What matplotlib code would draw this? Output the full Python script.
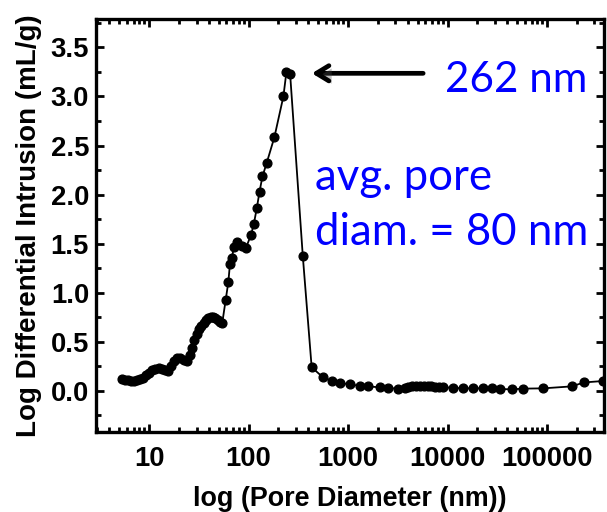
import matplotlib
matplotlib.use("Agg")
import matplotlib.pyplot as plt
import matplotlib.ticker as mticker
import matplotlib.patheffects as pe

# Mercury intrusion porosimetry: log differential intrusion vs pore diameter
pore_diameter_nm = [
    5.35, 5.68, 6.11, 6.56, 7.05, 7.58, 8.14, 8.74, 9.39, 10.1,
    10.8, 11.6, 12.5, 13.4, 14.4, 15.5, 16.7, 17.9, 19.2, 20.6,
    22.2, 23.8, 25.6, 27.0, 28.5, 30.1, 31.8, 33.5, 35.4, 37.4,
    39.4, 41.6, 43.9, 46.3, 48.9, 51.6, 54.5,
    59.0, 62.7, 65.0, 67.8, 71.5, 77.0, 85.0, 94.0, 106, 113,
    121, 129, 138, 152, 182, 224, 240, 262,
    351, 431, 556, 685, 828, 1047, 1320, 1600, 2090, 2540,
    3200, 3740, 4050, 4400, 4800, 5250, 5750, 6300, 6900, 7550,
    8300, 9080, 11400, 14400, 18200, 22900, 27800, 33700, 44200, 57800,
    91800, 177000, 235000, 368000,
]
log_diff_intrusion = [
    0.118, 0.112, 0.105, 0.101, 0.101, 0.108, 0.118, 0.135, 0.159, 0.186,
    0.210, 0.227, 0.230, 0.227, 0.215, 0.205, 0.250, 0.300, 0.330, 0.335,
    0.315, 0.305, 0.360, 0.440, 0.520, 0.580, 0.625, 0.660, 0.695, 0.725,
    0.745, 0.755, 0.755, 0.745, 0.720, 0.700, 0.695,
    0.93, 1.11, 1.29, 1.35, 1.47, 1.52, 1.48, 1.455, 1.59, 1.70,
    1.86, 2.03, 2.185, 2.32, 2.586, 3.00, 3.245, 3.225,
    1.375, 0.240, 0.140, 0.100, 0.080, 0.065, 0.050, 0.045, 0.035, 0.030,
    0.020, 0.030, 0.040, 0.045, 0.050, 0.050, 0.048, 0.046, 0.045, 0.043,
    0.040, 0.035, 0.030, 0.025, 0.025, 0.025, 0.025, 0.018, 0.015, 0.022,
    0.025, 0.045, 0.085, 0.100,
]

x_tick_values = [10, 100, 1000, 10000, 100000]
x_tick_labels = ["10", "100", "1000", "10000", "100000"]
y_tick_values = [0.0, 0.5, 1.0, 1.5, 2.0, 2.5, 3.0, 3.5]

peak_label = "262 nm"
avg_line1 = "avg. pore"
avg_line2 = "diam. = 80 nm"

fig = plt.figure(figsize=(6.07, 5.12), dpi=100)
ax = fig.add_axes([96 / 607, 80 / 512, 508 / 607, 413 / 512])

ax.plot(pore_diameter_nm, log_diff_intrusion, color="black", lw=1.3,
        marker="o", ms=6.3, mfc="black", mec="black", clip_on=True)

ax.set_xscale("log")
ax.set_xlim(2.93, 3.74e5)
ax.set_ylim(-0.42, 3.79)

ax.xaxis.set_major_locator(mticker.FixedLocator(x_tick_values))
ax.xaxis.set_major_formatter(mticker.FixedFormatter(x_tick_labels))
ax.xaxis.set_minor_locator(mticker.LogLocator(base=10, subs=range(2, 10), numticks=20))
ax.xaxis.set_minor_formatter(mticker.NullFormatter())
ax.yaxis.set_major_locator(mticker.FixedLocator(y_tick_values))
ax.yaxis.set_major_formatter(mticker.FormatStrFormatter("%.1f"))
ax.yaxis.set_minor_locator(mticker.MultipleLocator(0.25))

for lbl in ax.get_xticklabels() + ax.get_yticklabels():
    lbl.set_fontfamily("Liberation Sans")
    lbl.set_fontweight("bold")
    lbl.set_fontsize(19.8)

ax.tick_params(which="both", direction="in", top=True, right=True, width=2.0)
ax.tick_params(which="major", length=6, pad=5)
ax.tick_params(which="minor", length=3.5)
ax.tick_params(axis="x", which="major", pad=10)
for s in ax.spines.values():
    s.set_linewidth(2.4)

ax.set_xlabel("log (Pore Diameter (nm))", fontfamily="Liberation Sans",
              fontweight="bold", fontsize=19.4, labelpad=10)
ax.set_ylabel("Log Differential Intrusion (mL/g)", fontfamily="Liberation Sans",
              fontweight="bold", fontsize=20, labelpad=6)

blue = "#0000FF"
ax.text(0.687, 0.824, peak_label, transform=ax.transAxes, color=blue,
        fontfamily="Lato", fontsize=30.3, ha="left", va="baseline")
ax.text(0.431, 0.586, avg_line1, transform=ax.transAxes, color=blue,
        fontfamily="Lato", fontsize=31.5, ha="left", va="baseline")
ax.text(0.431, 0.453, avg_line2, transform=ax.transAxes, color=blue,
        fontfamily="Lato", fontsize=31.5, ha="left", va="baseline")

ax.annotate("", xy=(0.425, 0.8685), xytext=(0.644, 0.8685),
            xycoords="axes fraction", textcoords="axes fraction",
            arrowprops=dict(arrowstyle="->,head_length=0.9,head_width=0.55",
                            color="black", lw=3.4, shrinkA=0, shrinkB=0,
                            path_effects=[pe.SimplePatchShadow(offset=(2, -2), alpha=0.35),
                                          pe.Normal()]))

fig.savefig("out.png", dpi=100)
